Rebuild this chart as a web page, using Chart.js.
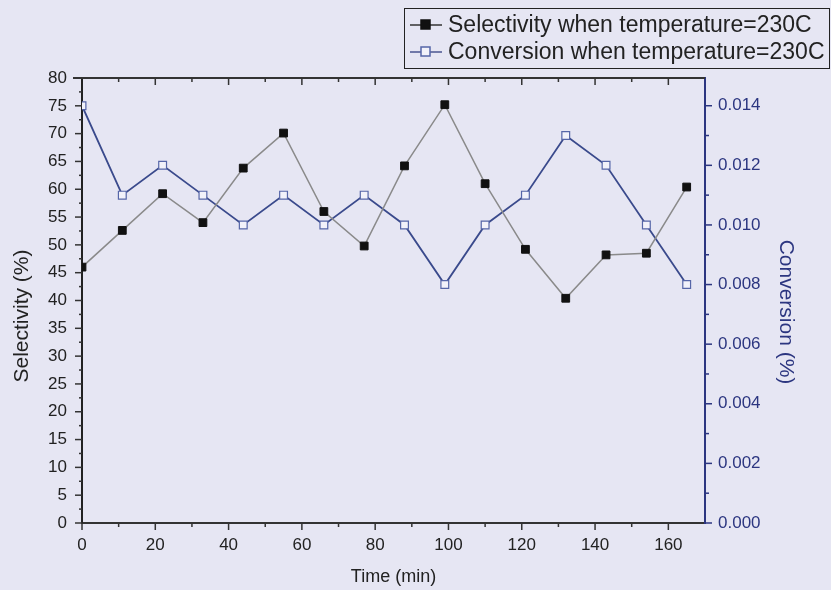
<!DOCTYPE html>
<html>
<head>
<meta charset="utf-8">
<title>Selectivity and conversion at 230C</title>
<script src="https://cdn.jsdelivr.net/npm/chart.js@4.4.1/dist/chart.umd.min.js"></script>
<style>
  html, body { margin: 0; padding: 0; background: #e6e6f3; }
  #wrap { position: relative; width: 831px; height: 590px; }
</style>
</head>
<body>
<div id="wrap"><canvas id="chart"></canvas></div>
<script>
// Sampling times (min)
const timeMin = [0, 11, 22, 33, 44, 55, 66, 77, 88, 99, 110, 121, 132, 143, 154, 165];
// Selectivity (%), left axis
const selectivity = [46, 52.6, 59.2, 54, 63.8, 70.1, 56, 49.8, 64.2, 75.2, 61, 49.2, 40.4, 48.2, 48.5, 60.4];
// Conversion (%), right axis
const conversion = [0.014, 0.011, 0.012, 0.011, 0.010, 0.011, 0.010, 0.011, 0.010, 0.008, 0.010, 0.011, 0.013, 0.012, 0.010, 0.008];

const xTicks = [0, 20, 40, 60, 80, 100, 120, 140, 160];
const yTicks = [0, 5, 10, 15, 20, 25, 30, 35, 40, 45, 50, 55, 60, 65, 70, 75, 80];
const y2Ticks = [0, 0.002, 0.004, 0.006, 0.008, 0.010, 0.012, 0.014];

const legendLabels = ['Selectivity when temperature=230C', 'Conversion when temperature=230C'];
const yTitle = 'Selectivity (%)';
const y2Title = 'Conversion (%)';

const FONT = '"Liberation Sans", Arial, sans-serif';
const BLUE = '#2c3680';

// tick marks, minor ticks, top frame line and the two vertical axis titles
const axisMarks = {
  id: 'axisMarks',
  afterDraw(chart) {
    const { ctx, chartArea: a, scales } = chart;
    const x = scales.x, y = scales.y, y2 = scales.y2;
    ctx.save();

    // top frame
    ctx.strokeStyle = '#333';
    ctx.lineWidth = 2;
    ctx.beginPath();
    ctx.moveTo(a.left - 9, a.top);
    ctx.lineTo(a.right, a.top);
    ctx.stroke();

    ctx.lineWidth = 1.5;
    // bottom (outward) and top (inward) ticks every 10 min
    for (let v = 0; v <= 160; v += 10) {
      const px = x.getPixelForValue(v);
      const major = v % 20 === 0;
      ctx.beginPath();
      ctx.moveTo(px, a.bottom);
      ctx.lineTo(px, a.bottom + (major ? 7 : 4));
      if (v > 0) {
        ctx.moveTo(px, a.top);
        ctx.lineTo(px, a.top + (major ? 7 : 4));
      }
      ctx.stroke();
    }

    // left ticks
    for (let v = 0; v <= 80; v += 2.5) {
      const py = y.getPixelForValue(v);
      const major = v % 5 === 0;
      ctx.beginPath();
      ctx.moveTo(a.left, py);
      ctx.lineTo(a.left - (major ? 7 : 3), py);
      ctx.stroke();
    }

    // right ticks
    ctx.strokeStyle = BLUE;
    for (let i = 0; i <= 14; i++) {
      const py = y2.getPixelForValue(i * 0.001);
      const major = i % 2 === 0;
      ctx.beginPath();
      ctx.moveTo(a.right, py);
      ctx.lineTo(a.right + (major ? 7 : 4), py);
      ctx.stroke();
    }

    // vertical axis titles
    ctx.font = '21px ' + FONT;
    ctx.textAlign = 'center';
    ctx.textBaseline = 'middle';
    ctx.fillStyle = '#222';
    ctx.translate(22, 316);
    ctx.rotate(-Math.PI / 2);
    ctx.fillText(yTitle, 0, 0);
    ctx.setTransform(1, 0, 0, 1, 0, 0);
    ctx.fillStyle = BLUE;
    ctx.translate(786, 312);
    ctx.rotate(Math.PI / 2);
    ctx.fillText(y2Title, 0, 0);
    ctx.restore();
  }
};

// boxed legend at the top right
const boxLegend = {
  id: 'boxLegend',
  afterDraw(chart) {
    const { ctx } = chart;
    ctx.save();
    ctx.strokeStyle = '#222';
    ctx.lineWidth = 1;
    ctx.strokeRect(404.5, 8.5, 425, 60);
    ctx.font = '23px ' + FONT;
    ctx.textBaseline = 'middle';
    chart.data.datasets.forEach((ds, i) => {
      const cy = 25 + i * 27;
      ctx.strokeStyle = i === 0 ? '#333' : '#4a5590';
      ctx.lineWidth = 1.5;
      ctx.beginPath();
      ctx.moveTo(410, cy);
      ctx.lineTo(442, cy);
      ctx.stroke();
      ctx.fillStyle = ds.pointBackgroundColor;
      ctx.fillRect(421, cy - 5, 9, 9);
      ctx.strokeStyle = ds.pointBorderColor;
      ctx.strokeRect(421, cy - 5, 9, 9);
      ctx.fillStyle = '#222';
      ctx.fillText(legendLabels[i], 448, cy + 1, 380);
    });
    ctx.restore();
  }
};

const tickFont = { family: FONT, size: 17 };

new Chart(document.getElementById('chart'), {
  type: 'line',
  data: {
    datasets: [
      {
        label: legendLabels[0],
        data: timeMin.map((t, i) => ({ x: t, y: selectivity[i] })),
        yAxisID: 'y',
        borderColor: '#8a8a8a',
        borderWidth: 1.5,
        pointStyle: 'rect',
        pointRadius: 5.5,
        pointBackgroundColor: '#111',
        pointBorderColor: '#111',
        pointBorderWidth: 1,
        tension: 0,
      },
      {
        label: legendLabels[1],
        data: timeMin.map((t, i) => ({ x: t, y: conversion[i] })),
        yAxisID: 'y2',
        borderColor: '#3a4a8c',
        borderWidth: 1.8,
        pointStyle: 'rect',
        pointRadius: 5.5,
        pointBackgroundColor: '#f2f2fa',
        pointBorderColor: '#5666a8',
        pointBorderWidth: 1.2,
        tension: 0,
      },
    ],
  },
  options: {
    responsive: true,
    maintainAspectRatio: false,
    animation: false,
    layout: { padding: { top: 78, left: 0, right: 0, bottom: 0 } },
    plugins: {
      legend: { display: false },
      tooltip: { enabled: false },
    },
    scales: {
      x: {
        type: 'linear',
        min: 0,
        max: 170,
        afterBuildTicks: (s) => { s.ticks = xTicks.map(v => ({ value: v })); },
        afterFit: (s) => { s.height = 67; },
        grid: { display: false, drawTicks: false },
        border: { display: true, color: '#333', width: 2 },
        ticks: { font: tickFont, color: '#222', padding: 12, maxRotation: 0 },
        title: { display: true, text: 'Time (min)', font: { family: FONT, size: 18 }, color: '#222', padding: { top: 0, bottom: 2 } },
      },
      y: {
        position: 'left',
        min: 0,
        max: 80,
        afterBuildTicks: (s) => { s.ticks = yTicks.map(v => ({ value: v })); },
        afterFit: (s) => { s.width = 82; },
        grid: { display: false, drawTicks: false },
        border: { display: true, color: '#222', width: 2 },
        ticks: { font: tickFont, color: '#222', padding: 15 },
      },
      y2: {
        position: 'right',
        min: 0,
        max: 0.01493,
        afterBuildTicks: (s) => { s.ticks = y2Ticks.map(v => ({ value: v })); },
        afterFit: (s) => { s.width = 126; },
        grid: { display: false, drawTicks: false },
        border: { display: true, color: BLUE, width: 2 },
        ticks: { font: tickFont, color: BLUE, padding: 13, callback: (v) => v.toFixed(3) },
      },
    },
  },
  plugins: [axisMarks, boxLegend],
});
</script>
</body>
</html>
